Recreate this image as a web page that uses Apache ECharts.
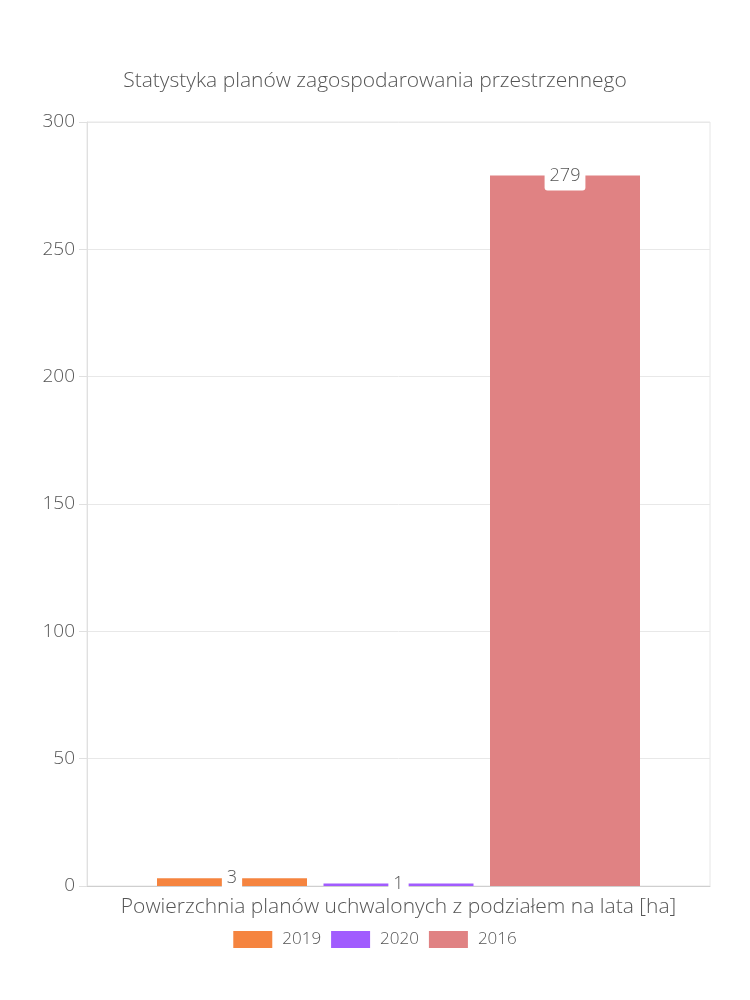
<!DOCTYPE html>
<html><head><meta charset="utf-8">
<script src="https://cdn.jsdelivr.net/npm/echarts@6/dist/echarts.min.js"></script>
<style>html,body{margin:0;padding:0;background:#fff}#c{width:750px;height:1000px}</style>
</head><body><div id="c"></div>
<script>
const categories = ['Powierzchnia planów uchwalonych z podziałem na lata [ha]'];
const seriesNames = ['2019', '2020', '2016'];
const values2019 = [3];
const values2020 = [1];
const values2016 = [279];
const colors = ['#f5843f', '#a15cfe', '#e08283'];
const yTicks = { min: 0, max: 300, interval: 50 };

const FONT = 'Open Sans';
const chart = echarts.init(document.getElementById('c'));
const label = {
  show: true, position: 'top', distance: -15,
  color: '#555', fontFamily: FONT, fontSize: 18, fontWeight: 300,
  backgroundColor: '#fff', padding: [6, 5], borderRadius: 3, lineHeight: 18
};
const data = [values2019, values2020, values2016];
chart.setOption({
  animation: false,
  title: { text: 'Statystyka planów zagospodarowania przestrzennego', left: 'center', top: 66,
    textStyle: { fontFamily: FONT, fontWeight: 300, fontSize: 21, color: '#555' } },
  legend: { bottom: 47, itemWidth: 39, itemHeight: 17, itemGap: 10, icon: 'rect',
    textStyle: { fontFamily: FONT, fontWeight: 300, fontSize: 17, color: '#555', padding: [0, 0, 0, 5] },
    data: seriesNames },
  grid: { left: 87, right: 40, top: 122, bottom: 114, show: true, borderColor: '#e6e6e6', borderWidth: 1 },
  xAxis: { type: 'category', data: categories,
    axisLine: { lineStyle: { color: '#cfcfcf' } }, axisTick: { show: false },
    axisLabel: { fontFamily: FONT, fontWeight: 300, fontSize: 21, color: '#555', margin: 11 } },
  yAxis: { type: 'value', min: yTicks.min, max: yTicks.max, interval: yTicks.interval,
    axisLine: { show: true, lineStyle: { color: '#e0e0e0' } },
    axisTick: { show: true, length: 8, lineStyle: { color: '#e0e0e0' } },
    splitLine: { lineStyle: { color: '#e8e8e8' } },
    axisLabel: { fontFamily: FONT, fontWeight: 300, fontSize: 19, color: '#555', margin: 12 } },
  series: seriesNames.map((n, i) => ({
    name: n, type: 'bar', data: data[i], barWidth: 150, barGap: '11%',
    itemStyle: { color: colors[i] }, label: label
  }))
});
</script></body></html>
